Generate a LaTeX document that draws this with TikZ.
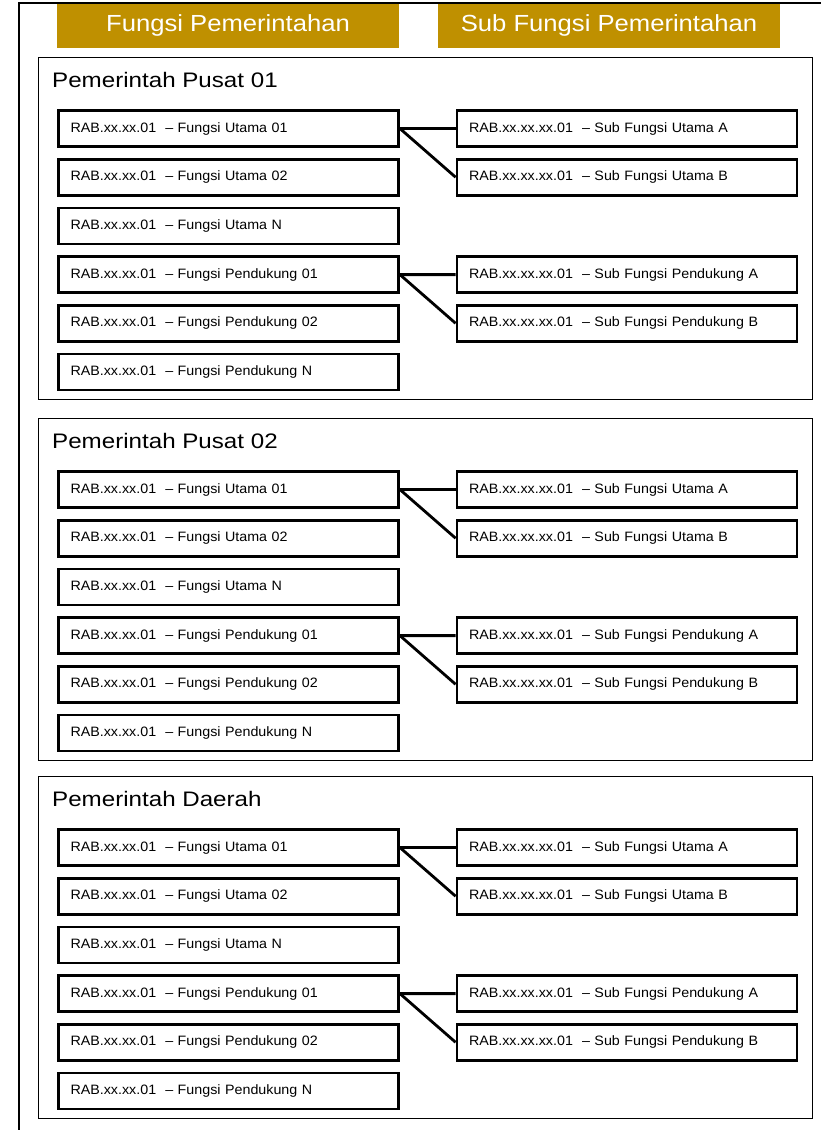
\documentclass[tikz,border=0pt]{standalone}
\usepackage{fontspec}
\setmainfont{Liberation Sans}
\newfontfamily\hdrfont[FakeStretch=1.1]{Liberation Sans}
\newfontfamily\ttlfont[FakeStretch=1.15]{Liberation Sans}
\newfontfamily\itemfont[FakeStretch=1.05]{Liberation Sans}
\definecolor{hdrgold}{RGB}{191,144,0}
\tikzset{
  hdr/.style={fill=hdrgold, text=white, minimum width=342pt, minimum height=44pt,
    inner sep=0pt, font=\hdrfont\fontsize{23.3}{26}\selectfont},
  sect/.style={draw, line width=1.5pt, minimum width=774pt, minimum height=342pt, inner sep=0pt},
  sectttl/.style={anchor=base west, inner sep=0pt, font=\ttlfont\fontsize{21}{24}\selectfont},
  item/.style={draw, line width=2.8pt, minimum width=340pt, minimum height=36pt,
    text width=316pt, align=left, inner xsep=12pt, inner ysep=0pt,
    font=\itemfont\fontsize{13.6}{16}\selectfont},
  conn/.style={line width=2.8pt},
  frame/.style={line width=2pt}
}
\begin{document}
\begin{tikzpicture}[x=1pt,y=-1pt]
  \useasboundingbox (0,0) rectangle (821,1130);
  % outer frame, open to the right and below
  \draw[frame] (19,1131) -- (19,3) -- (822,3);
  % column headings
  \node[hdr] (h1) at (228,25.5) {Fungsi Pemerintahan};
  \node[hdr] (h2) at (609,25.5) {Sub Fungsi Pemerintahan};
  % one panel per level of government
  \foreach \T/\s/\title in {57/pa/{Pemerintah Pusat 01},418/pb/{Pemerintah Pusat 02},776/pd/{Pemerintah Daerah}}{
    \node[sect] (\s) at (425.5,\T+171.5) {};
    \node[sectttl] (\s-t) at (52,\T+30) {\title};
    \foreach \k/\txt in {0/Fungsi Utama 01,1/Fungsi Utama 02,2/Fungsi Utama N,3/Fungsi Pendukung 01,4/Fungsi Pendukung 02,5/Fungsi Pendukung N}{
      \node[item] (\s-f\k) at (228.5,\T+71.5+48.7*\k) {RAB.xx.xx.01~~\textendash{} \txt};
    }
    \node[item] (\s-ua) at (627,\T+71.5) {RAB.xx.xx.xx.01~~\textendash{} Sub Fungsi Utama A};
    \node[item] (\s-ub) at (627,\T+120.2) {RAB.xx.xx.xx.01~~\textendash{} Sub Fungsi Utama B};
    \node[item] (\s-pa) at (627,\T+217.6) {RAB.xx.xx.xx.01~~\textendash{} Sub Fungsi Pendukung A};
    \node[item] (\s-pb) at (627,\T+266.3) {RAB.xx.xx.xx.01~~\textendash{} Sub Fungsi Pendukung B};
    \draw[conn] (\s-f0.east) -- (\s-ua.west);
    \draw[conn] (\s-f0.east) -- (\s-ub.west);
    \draw[conn] (\s-f3.east) -- (\s-pa.west);
    \draw[conn] (\s-f3.east) -- (\s-pb.west);
  }
\end{tikzpicture}
\end{document}
